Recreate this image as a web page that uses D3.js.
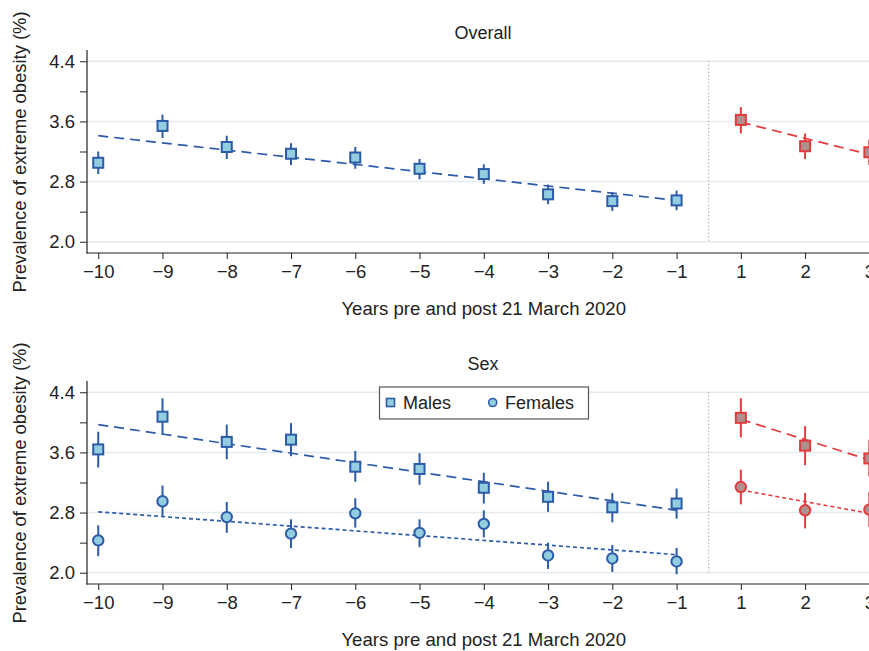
<!DOCTYPE html>
<html><head><meta charset="utf-8">
<script src="https://cdn.jsdelivr.net/npm/d3@7/dist/d3.min.js"></script>
<style>
html,body{margin:0;padding:0;background:#fff;overflow:hidden}
text{font-family:"Liberation Sans",Arial,Helvetica,sans-serif;fill:#222}
</style></head>
<body>
<svg id="chart" width="869" height="651"></svg>
<script>
// ---- data ----
const years = [-10,-9,-8,-7,-6,-5,-4,-3,-2,-1,1,2,3];
const yTicks = [2.0, 2.8, 3.6, 4.4];
const yMinorTicks = [2.4, 3.2, 4.0];

const overallEst = [3.05,3.54,3.26,3.17,3.12,2.97,2.90,2.63,2.54,2.55,3.62,3.27,3.19];
const overallLo  = [2.90,3.38,3.10,3.02,2.97,2.83,2.77,2.50,2.41,2.42,3.44,3.10,3.02];
const overallHi  = [3.20,3.69,3.41,3.31,3.26,3.10,3.03,2.76,2.66,2.68,3.79,3.44,3.36];
const overallPreTrend  = [3.41, 2.55];   // at -10, -1
const overallPostTrend = [3.59, 3.16];   // at 1, 3

const malesEst = [3.64,4.075,3.74,3.77,3.41,3.38,3.13,3.01,2.87,2.92,4.06,3.69,3.52];
const malesLo  = [3.40,3.84,3.51,3.55,3.21,3.17,2.92,2.81,2.67,2.72,3.80,3.43,3.28];
const malesHi  = [3.875,4.32,3.97,3.99,3.62,3.59,3.33,3.21,3.06,3.12,4.32,3.95,3.77];
const malesPreTrend  = [3.97, 2.83];
const malesPostTrend = [4.04, 3.50];

const femalesEst = [2.43,2.95,2.74,2.52,2.79,2.53,2.65,2.23,2.19,2.15,3.14,2.83,2.84];
const femalesLo  = [2.22,2.74,2.53,2.33,2.60,2.34,2.47,2.05,2.01,1.98,2.91,2.59,2.61];
const femalesHi  = [2.63,3.16,2.94,2.71,2.99,2.71,2.83,2.40,2.37,2.33,3.37,3.06,3.07];
const femalesPreTrend  = [2.81, 2.24];
const femalesPostTrend = [3.10, 2.79];

// ---- styles ----
const BLUE = "#2c5ba8", BLUE_FILL = "#92cde0";
const RED = "#e23a3d", RED_FILL = "#ae9090";
const GRID = "#e2ebee";

const svg = d3.select("#chart");
const idx = y => years.indexOf(y);
const x = d3.scaleLinear().domain([-0.175, 12.15]).range([87, 879]);

function tickLabel(y){ return y < 0 ? "\u2212" + Math.abs(y) : String(y); }

function panel(top, title, series, legend){
  const g = svg.append("g").attr("transform", `translate(0,${top})`);
  const y = d3.scaleLinear().domain([1.85, 4.55]).range([253, 50]);

  // grid
  g.selectAll("line.grid").data(yTicks).enter().append("line")
    .attr("x1", 87).attr("x2", 879)
    .attr("y1", d => y(d)).attr("y2", d => y(d))
    .attr("stroke", GRID).attr("stroke-width", 1.6);

  // dotted divider
  g.append("line").attr("x1", (x(9)+x(10))/2).attr("x2", (x(9)+x(10))/2)
    .attr("y1", y(4.4)).attr("y2", y(2.0))
    .attr("stroke", "#8a8a8a").attr("stroke-width", 1).attr("stroke-dasharray", "1,2.5");

  // y axis
  const ya = d3.axisLeft(y).tickValues(yTicks).tickFormat(d3.format(".1f")).tickSize(7).tickPadding(5);
  const yg = g.append("g").attr("transform", "translate(87,0)").call(ya);
  yg.select(".domain").remove();
  yg.selectAll("text").style("font-size", "18.5px").attr("fill", "#222");
  yg.selectAll("line").attr("stroke", "#222");
  const ym = d3.axisLeft(y).tickValues(yMinorTicks).tickFormat("").tickSize(7);
  const ymg = g.append("g").attr("transform", "translate(87,0)").call(ym);
  ymg.select(".domain").remove();
  ymg.selectAll("line").attr("stroke", "#222");
  g.append("line").attr("x1", 87).attr("x2", 87).attr("y1", 50).attr("y2", 253.5)
    .attr("stroke", "#222").attr("stroke-width", 1.2);

  // x axis
  const xa = d3.axisBottom(x).tickValues(d3.range(years.length)).tickFormat(i => tickLabel(years[i])).tickSize(6).tickPadding(6);
  const xg = g.append("g").attr("transform", "translate(0,253)").call(xa);
  xg.select(".domain").remove();
  xg.selectAll("text").style("font-size", "18.5px").attr("fill", "#222");
  xg.selectAll("line").attr("stroke", "#222");
  g.append("line").attr("x1", 86.4).attr("x2", 879).attr("y1", 253).attr("y2", 253)
    .attr("stroke", "#222").attr("stroke-width", 1.2);

  // titles
  g.append("text").attr("x", 483).attr("y", 39).attr("text-anchor", "middle")
    .style("font-size", "18px").text(title);
  g.append("text").attr("x", 483.7).attr("y", 315).attr("text-anchor", "middle")
    .style("font-size", "18.6px").text("Years pre and post 21 March 2020");
  g.append("text").attr("transform", "translate(26,152) rotate(-90)").attr("text-anchor", "middle")
    .style("font-size", "18.4px").text("Prevalence of extreme obesity (%)");

  series.forEach(s => {
    // trend lines
    const tl = (vals, y0, y1, col) => g.append("line")
      .attr("x1", x(idx(y0))).attr("x2", x(idx(y1)))
      .attr("y1", y(vals[0])).attr("y2", y(vals[1]))
      .attr("stroke", col).attr("stroke-width", 1.7).attr("stroke-dasharray", s.dash);
    tl(s.pre, -10, -1, BLUE);
    tl(s.post, 1, 3, RED);

    years.forEach((yr, i) => {
      const post = yr > 0;
      const col = post ? RED : BLUE, fill = post ? RED_FILL : BLUE_FILL;
      const cx = x(i);
      g.append("line").attr("x1", cx).attr("x2", cx)
        .attr("y1", y(s.lo[i])).attr("y2", y(s.hi[i]))
        .attr("stroke", col).attr("stroke-width", 2);
      if (s.shape === "square") {
        g.append("rect").attr("x", cx-5).attr("y", y(s.est[i])-5).attr("width", 10).attr("height", 10)
          .attr("fill", fill).attr("stroke", col).attr("stroke-width", 2);
      } else {
        g.append("circle").attr("cx", cx).attr("cy", y(s.est[i])).attr("r", 5.2)
          .attr("fill", fill).attr("stroke", col).attr("stroke-width", 2);
      }
    });
  });

  if (legend) {
    const lg = g.append("g");
    lg.append("rect").attr("x", 379.5).attr("y", 56).attr("width", 209).attr("height", 32)
      .attr("fill", "#fff").attr("stroke", "#555").attr("stroke-width", 1.2);
    lg.append("rect").attr("x", 386.5).attr("y", 67.5).attr("width", 8).attr("height", 8)
      .attr("fill", BLUE_FILL).attr("stroke", BLUE).attr("stroke-width", 1.6);
    lg.append("text").attr("x", 403).attr("y", 78).style("font-size", "18px").text("Males");
    lg.append("circle").attr("cx", 492.7).attr("cy", 71.5).attr("r", 4)
      .attr("fill", BLUE_FILL).attr("stroke", BLUE).attr("stroke-width", 1.6);
    lg.append("text").attr("x", 505).attr("y", 78).style("font-size", "18px").text("Females");
  }
}

panel(0, "Overall", [
  {shape:"square", est:overallEst, lo:overallLo, hi:overallHi, pre:overallPreTrend, post:overallPostTrend, dash:"10,6"}
], false);

panel(331, "Sex", [
  {shape:"square", est:malesEst, lo:malesLo, hi:malesHi, pre:malesPreTrend, post:malesPostTrend, dash:"10,6"},
  {shape:"circle", est:femalesEst, lo:femalesLo, hi:femalesHi, pre:femalesPreTrend, post:femalesPostTrend, dash:"4,3"}
], true);
</script>
</body></html>
